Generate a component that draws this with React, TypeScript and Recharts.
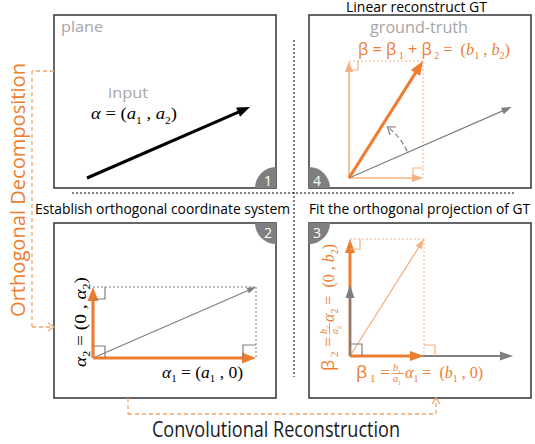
import React from "react";
import { ComposedChart, XAxis, YAxis, ReferenceArea, ReferenceLine, ReferenceDot } from "recharts";

const W = 535;
const H = 444;
const ORANGE = "#ED7D31";
const LIGHT = "#F4B183";
const GRAY = "#7F7F7F";
const TXT_GRAY = "#A6A6A6";
const DASH_OR = "#F4A46C";
const SANS = "'Open Sans', 'Noto Sans', sans-serif";
const SERIF = "'Liberation Serif', 'DejaVu Serif', serif";

// vector components, measured in canvas units (upward = positive)
const alpha = [163, 71];
const beta = [74, 117];

// where each panel's vectors start
const origins = {
  p1: [87, 178],
  p2: [93, 358],
  p3: [350, 356],
  p4: [349, 178],
};

// panel frames and their number badges
const frames = [
  { n: "1", x1: 54, y1: 15, x2: 276, y2: 188, corner: "br" },
  { n: "4", x1: 309, y1: 15, x2: 531, y2: 188, corner: "bl" },
  { n: "2", x1: 54, y1: 223, x2: 276, y2: 398, corner: "tr" },
  { n: "3", x1: 309, y1: 223, x2: 531, y2: 398, corner: "tl" },
];

const titles = [
  "Linear reconstruct  GT",
  "Establish orthogonal coordinate system",
  "Fit the orthogonal projection of GT",
];
const flowLabels = ["Orthogonal Decomposition", "Convolutional Reconstruction"];
const panelTags = ["plane", "input", "ground-truth"];

// dashed flow connectors (polylines)
const leftConnector = [[54, 71], [32, 71], [32, 327], [54, 327]];
const bottomConnector = [[128, 398], [128, 414], [436, 414], [436, 398]];

type P = number[];
const up = (o: P, dx: number, dy: number): P => [o[0] + dx, o[1] - dy];

const arrowShape = (color: string, w: number, head: number, headW: number) => (p: any) => {
  const { x1, y1, x2, y2 } = p;
  const dx = x2 - x1, dy = y2 - y1;
  const L = Math.hypot(dx, dy) || 1;
  const ux = dx / L, uy = dy / L, nx = -uy, ny = ux;
  const bx = x2 - ux * head, by = y2 - uy * head;
  return (
    <g>
      <line x1={x1} y1={y1} x2={bx + ux} y2={by + uy} stroke={color} strokeWidth={w} />
      <polygon
        points={`${x2},${y2} ${bx + (nx * headW) / 2},${by + (ny * headW) / 2} ${bx - (nx * headW) / 2},${by - (ny * headW) / 2}`}
        fill={color}
      />
    </g>
  );
};

const lineShape = (color: string, w: number, dash?: string, chevron = false) => (p: any) => {
  const { x1, y1, x2, y2 } = p;
  const dx = x2 - x1, dy = y2 - y1;
  const L = Math.hypot(dx, dy) || 1;
  const ux = dx / L, uy = dy / L, nx = -uy, ny = ux;
  const h = 6, hw = 4;
  return (
    <g>
      <line x1={x1} y1={y1} x2={x2} y2={y2} stroke={color} strokeWidth={w} strokeDasharray={dash} />
      {chevron && (
        <polyline
          points={`${x2 - ux * h + nx * hw},${y2 - uy * h + ny * hw} ${x2},${y2} ${x2 - ux * h - nx * hw},${y2 - uy * h - ny * hw}`}
          fill="none"
          stroke={color}
          strokeWidth={w}
        />
      )}
    </g>
  );
};

const seg = (key: string, a: P, b: P, shape: any) => (
  <ReferenceLine
    key={key}
    segment={[{ x: a[0], y: a[1] }, { x: b[0], y: b[1] }]}
    ifOverflow="visible"
    shape={shape}
  />
);

const dot = (key: string, at: P, render: (cx: number, cy: number) => any) => (
  <ReferenceDot key={key} x={at[0]} y={at[1]} r={0} ifOverflow="visible" shape={(p: any) => render(p.cx, p.cy)} />
);

// right-angle mark: corner c, sides along u and v
const mark = (key: string, c: P, u: P, v: P, s: number, color: string) =>
  dot(key, c, (cx, cy) => (
    <polyline
      points={`${cx + u[0] * s},${cy + u[1] * s} ${cx + u[0] * s + v[0] * s},${cy + u[1] * s + v[1] * s} ${cx + v[0] * s},${cy + v[1] * s}`}
      fill="none"
      stroke={color}
      strokeWidth={1.2}
    />
  ));

type Tok = [string, string];
const spans = (toks: Tok[], size: number) => {
  let low = false;
  const drop = size * 0.28;
  return toks.map(([k, s], i) => {
    if (k === "s") {
      const el = (
        <tspan key={i} fontSize={size * 0.62} dy={low ? 0 : drop} fontStyle="normal" fontFamily={SERIF}>
          {s}
        </tspan>
      );
      low = true;
      return el;
    }
    const dy = low ? -drop : 0;
    low = false;
    return (
      <tspan key={i} dy={dy} fontStyle={k === "i" ? "italic" : "normal"} fontFamily={k === "t" ? SANS : SERIF}>
        {s}
      </tspan>
    );
  });
};

const MathText = (x: number, y: number, toks: Tok[], size: number, color: string, len?: number) => (
  <text x={x} y={y} fontSize={size} fill={color} style={{ whiteSpace: "pre" }} textLength={len} lengthAdjust="spacingAndGlyphs">
    {spans(toks, size)}
  </text>
);

const Plain = (x: number, y: number, s: string, size: number, color: string, len?: number, anchor = "start") => (
  <text
    x={x}
    y={y}
    fontSize={size}
    fill={color}
    fontFamily={SANS}
    textAnchor={anchor as any}
    textLength={len}
    lengthAdjust="spacingAndGlyphs"
  >
    {s}
  </text>
);

const fracLabel = (x: number, y: number, idx: string, color: string, suffix: Tok[]) => (
  <g>
    {MathText(x, y, [["t", "β"], ["s", " " + idx], ["r", " ="]], 16, color, 34)}
    {MathText(x + 37, y - 7, [["i", "b"], ["s", idx]], 10, color)}
    <line x1={x + 36.5} x2={x + 48} y1={y - 4.5} y2={y - 4.5} stroke={color} strokeWidth={0.8} />
    {MathText(x + 37, y + 4, [["i", "a"], ["s", idx]], 10, color)}
    {MathText(x + 49, y, suffix, 16, color, 78)}
  </g>
);

const badge = (f: (typeof frames)[number]) => {
  const c: P = f.corner === "br" ? [f.x2, f.y2] : f.corner === "bl" ? [f.x1, f.y2] : f.corner === "tr" ? [f.x2, f.y1] : [f.x1, f.y1];
  return dot("badge" + f.n, c, (cx, cy) => {
    const r = 21;
    let d = "";
    let tx = 0, ty = 0;
    if (f.corner === "br") { d = `M${cx},${cy} L${cx - r},${cy} A${r},${r} 0 0 1 ${cx},${cy - r} Z`; tx = cx - 8; ty = cy - 2; }
    if (f.corner === "bl") { d = `M${cx},${cy} L${cx},${cy - r} A${r},${r} 0 0 1 ${cx + r},${cy} Z`; tx = cx + 8; ty = cy - 2; }
    if (f.corner === "tr") { d = `M${cx},${cy} L${cx},${cy + r} A${r},${r} 0 0 1 ${cx - r},${cy} Z`; tx = cx - 8; ty = cy + 15; }
    if (f.corner === "tl") { d = `M${cx},${cy} L${cx + r},${cy} A${r},${r} 0 0 1 ${cx},${cy + r} Z`; tx = cx + 8; ty = cy + 15; }
    return (
      <g>
        <path d={d} fill={GRAY} />
        <text x={tx} y={ty} fontSize={14} fill="#fff" fontFamily={SANS} textAnchor="middle">
          {f.n}
        </text>
      </g>
    );
  });
};

export default function App() {
  const o1 = origins.p1, o2 = origins.p2, o3 = origins.p3, o4 = origins.p4;
  const [a1, a2] = alpha;
  const [b1, b2] = beta;

  const els: any[] = [];

  // frames
  frames.forEach((f) =>
    els.push(
      <ReferenceArea key={"f" + f.n} x1={f.x1} x2={f.x2} y1={f.y1} y2={f.y2} fill="#fff" fillOpacity={1} stroke="#333" strokeWidth={1.5} ifOverflow="visible" />
    )
  );

  // separators
  els.push(seg("sepH", [72, 193], [515, 193], lineShape("#000", 1, "2 2")));
  els.push(seg("sepV", [294, 40], [294, 377], lineShape("#000", 1, "2 2")));

  // connectors
  [leftConnector, bottomConnector].forEach((pts, ci) =>
    pts.slice(1).forEach((p, i) =>
      els.push(seg(`c${ci}-${i}`, pts[i], p, lineShape(DASH_OR, 1.3, "4 3", i === pts.length - 2)))
    )
  );

  // panel 1
  els.push(seg("p1a", o1, up(o1, a1, a2), arrowShape("#000", 3, 13, 10)));

  // panel 2
  const t2 = up(o2, a1, a2);
  els.push(seg("p2d1", up(o2, 0, a2), t2, lineShape(GRAY, 1, "2 2")));
  els.push(seg("p2d2", t2, up(o2, a1, 0), lineShape(GRAY, 1, "2 2")));
  els.push(seg("p2g", o2, t2, arrowShape(GRAY, 1.2, 9, 6)));
  els.push(seg("p2h", o2, up(o2, a1, 0), arrowShape(ORANGE, 3.2, 14, 11)));
  els.push(seg("p2v", o2, up(o2, 0, a2), arrowShape(ORANGE, 3.2, 14, 11)));
  els.push(mark("m2a", o2, [1, 0], [0, -1], 12, GRAY));
  els.push(mark("m2b", up(o2, 0, a2), [1, 0], [0, 1], 12, GRAY));
  els.push(mark("m2c", up(o2, a1, 0), [-1, 0], [0, -1], 13, GRAY));

  // panel 3
  const t3 = up(o3, b1, b2);
  els.push(seg("p3d1", up(o3, 0, b2), t3, lineShape(LIGHT, 1, "2 2")));
  els.push(seg("p3d2", t3, up(o3, b1, 0), lineShape(LIGHT, 1, "2 2")));
  els.push(seg("p3l", o3, t3, arrowShape(LIGHT, 1.3, 10, 7)));
  els.push(seg("p3gh", o3, up(o3, a1, 0), arrowShape(GRAY, 2, 13, 9)));
  els.push(seg("p3oh", o3, up(o3, b1, 0), arrowShape(ORANGE, 3, 14, 10)));
  els.push(seg("p3ov", o3, up(o3, 0, b2), arrowShape(ORANGE, 3, 14, 10)));
  els.push(seg("p3gv", o3, up(o3, 0, a2), arrowShape(GRAY, 2, 13, 9)));
  els.push(mark("m3a", o3, [1, 0], [0, -1], 12, GRAY));
  els.push(mark("m3b", up(o3, b1, 0), [1, 0], [0, -1], 11, LIGHT));
  els.push(mark("m3c", up(o3, 0, b2), [1, 0], [0, 1], 10, LIGHT));

  // panel 4
  const t4 = up(o4, b1, b2);
  els.push(seg("p4d1", up(o4, 0, b2), t4, lineShape(LIGHT, 1, "2 2")));
  els.push(seg("p4d2", t4, up(o4, b1, 0), lineShape(LIGHT, 1, "2 2")));
  els.push(seg("p4lv", o4, up(o4, 0, b2), arrowShape(LIGHT, 1.6, 11, 8)));
  els.push(seg("p4lh", o4, up(o4, b1, 0), arrowShape(LIGHT, 1.6, 11, 8)));
  els.push(seg("p4g", o4, up(o4, a1 - 0.5, a2), arrowShape(GRAY, 1.2, 10, 7)));
  els.push(seg("p4b", o4, t4, arrowShape(ORANGE, 3.2, 14, 11)));
  els.push(mark("m4a", up(o4, 0, b2), [1, 0], [0, 1], 9, LIGHT));
  els.push(mark("m4b", up(o4, b1, 0), [-1, 0], [0, -1], 10, LIGHT));
  // rotation arc from alpha towards beta
  els.push(
    dot("arc", o4, (cx, cy) => {
      const r = 64;
      const s = Math.atan2(a2, a1) + 0.02;
      const e = Math.atan2(b2, b1) - 0.08;
      const sx = cx + r * Math.cos(s), sy = cy - r * Math.sin(s);
      const ex = cx + r * Math.cos(e), ey = cy - r * Math.sin(e);
      const tx = -Math.sin(e), ty = -Math.cos(e);
      const nx = -ty, ny = tx;
      const h = 7, hw = 5;
      return (
        <g fill="none" stroke={GRAY} strokeWidth={1.2}>
          <path d={`M${sx},${sy} A${r},${r} 0 0 0 ${ex},${ey}`} strokeDasharray="5 3" />
          <polyline points={`${ex - tx * h + nx * hw},${ey - ty * h + ny * hw} ${ex},${ey} ${ex - tx * h - nx * hw},${ey - ty * h - ny * hw}`} />
        </g>
      );
    })
  );

  // badges
  frames.forEach((f) => els.push(badge(f)));

  // texts
  els.push(dot("tPlane", [61, 32], (x, y) => Plain(x, y, panelTags[0], 15, TXT_GRAY, 42)));
  els.push(dot("tInput", [128, 98], (x, y) => Plain(x, y, panelTags[1], 15, TXT_GRAY, 40, "middle")));
  els.push(dot("tGT", [370, 33], (x, y) => Plain(x, y, panelTags[2], 17, TXT_GRAY, 98)));
  els.push(dot("tT0", [346, 12], (x, y) => Plain(x, y, titles[0], 14, "#000", 141)));
  els.push(dot("tT1", [35, 214], (x, y) => Plain(x, y, titles[1], 14, "#000", 255)));
  els.push(dot("tT2", [309, 214], (x, y) => Plain(x, y, titles[2], 14, "#000", 221)));
  els.push(dot("tConv", [152, 437], (x, y) => Plain(x, y, flowLabels[1], 21, "#1a1a1a", 248)));
  els.push(
    dot("tOrth", [25, 317], (x, y) => (
      <g transform={`rotate(-90 ${x} ${y})`}>{Plain(x, y, flowLabels[0], 20, ORANGE, 254)}</g>
    ))
  );
  els.push(
    dot("mAlpha", [91, 119], (x, y) =>
      MathText(x, y, [["i", "α"], ["r", " = ("], ["i", "a"], ["s", "1"], ["r", " , "], ["i", "a"], ["s", "2"], ["r", ")"]], 17, "#000", 86)
    )
  );
  els.push(
    dot("mBeta", [358, 55], (x, y) =>
      MathText(
        x,
        y,
        [["t", "β = β"], ["s", " 1"], ["t", " + β"], ["s", " 2"], ["r", " =  ("], ["i", "b"], ["s", "1"], ["r", " , "], ["i", "b"], ["s", "2"], ["r", ")"]],
        16,
        ORANGE,
        152
      )
    )
  );
  els.push(
    dot("mA1", [162, 378], (x, y) =>
      MathText(x, y, [["i", "α"], ["s", "1"], ["r", " = ("], ["i", "a"], ["s", "1"], ["r", " , 0)"]], 16, "#000", 81)
    )
  );
  els.push(
    dot("mA2", [86, 367], (x, y) => (
      <g transform={`rotate(-90 ${x} ${y})`}>
        {MathText(x, y, [["i", "α"], ["s", "2"], ["r", " = (0 , "], ["i", "α"], ["s", "2"], ["r", ")"]], 16, "#000", 90)}
      </g>
    ))
  );
  els.push(
    dot("mB1", [356, 378], (x, y) =>
      fracLabel(x, y, "1", ORANGE, [["i", "α"], ["s", "1"], ["r", " =  ("], ["i", "b"], ["s", "1"], ["r", " , 0)"]])
    )
  );
  els.push(
    dot("mB2", [334, 371], (x, y) => (
      <g transform={`rotate(-90 ${x} ${y})`}>
        {fracLabel(x, y, "2", ORANGE, [["i", "α"], ["s", "2"], ["r", " =  (0 , "], ["i", "b"], ["s", "2"], ["r", ")"]])}
      </g>
    ))
  );

  return (
    <div style={{ position: "absolute", left: 0, top: 0, width: W, height: H, background: "#fff" }}>
      <ComposedChart width={W} height={H} margin={{ top: 0, right: 0, bottom: 0, left: 0 }} data={[]}>
        <XAxis type="number" dataKey="x" domain={[0, W]} hide allowDataOverflow />
        <YAxis type="number" dataKey="y" domain={[0, H]} reversed hide allowDataOverflow />
        {els}
      </ComposedChart>
    </div>
  );
}
